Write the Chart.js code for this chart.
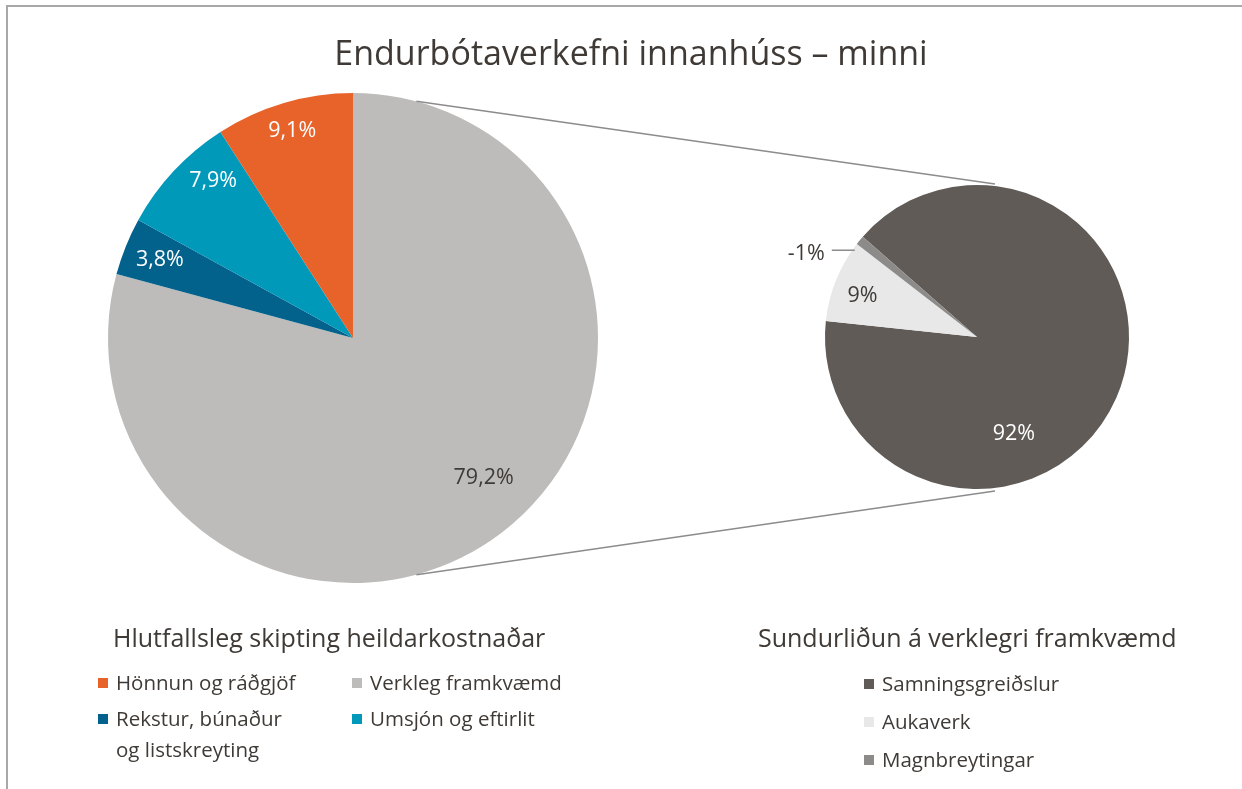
<!DOCTYPE html>
<html lang="is">
<head>
    <meta charset="UTF-8">
    <title>Endurbótaverkefni innanhúss – minni</title>
    <script src="https://cdn.jsdelivr.net/npm/chart.js"></script>
    <style>
        body { margin: 0; background: #fff; font-family: "Open Sans", "Noto Sans", sans-serif; color: #3f3a36; }
        #wrap { position: relative; width: 1242px; height: 789px; overflow: hidden; }
        #frame { position: absolute; left: 6px; top: 5px; width: 1400px; height: 1000px; border: 2px solid #a8a8a8; }
        canvas { position: absolute; left: 0; top: 0; }
        h1 { position: absolute; top: 29px; left: 0; width: 1262px; margin: 0; text-align: center; font-weight: normal; font-size: 34px; line-height: 46px; }
        h2 { position: absolute; margin: 0; font-weight: normal; font-size: 25px; line-height: 32px; white-space: nowrap; }
        .legend { position: absolute; font-size: 20.5px; }
        .item { position: absolute; display: flex; align-items: flex-start; line-height: 31px; white-space: nowrap; }
        .item i { display: inline-block; width: 10px; height: 10px; margin: 11px 8px 0 0; }
    </style>
</head>
<body>
<div id="wrap">
    <div id="frame"></div>
    <canvas id="pieMain" width="1242" height="789"></canvas>
    <canvas id="pieSub" width="1242" height="789"></canvas>
    <h1>Endurbótaverkefni innanhúss – minni</h1>
    <h2 style="left:113px; top:621px;">Hlutfallsleg skipting heildarkostnaðar</h2>
    <h2 style="left:758px; top:621px;">Sundurliðun á verklegri framkvæmd</h2>
    <div id="legendMain" class="legend"></div>
    <div id="legendSub" class="legend"></div>
</div>

<script>
    // gögn - heildarkostnaður (byrjar efst, réttsælis)
    const mainLabels = ['Verkleg framkvæmd', ['Rekstur, búnaður', 'og listskreyting'], 'Umsjón og eftirlit', 'Hönnun og ráðgjöf'];
    const mainValues = [79.2, 3.8, 7.9, 9.1];
    const mainColors = ['#bdbcba', '#03628c', '#0099ba', '#e8632a'];

    // gögn - sundurliðun verklegrar framkvæmdar
    const subLabels = ['Samningsgreiðslur', 'Aukaverk', 'Magnbreytingar'];
    const subValues = [92, 9, -1];
    const subColors = ['#605b56', '#e8e8e8', '#8d8b89'];

    const fontFamily = '"Open Sans", "Noto Sans", sans-serif';

    // teiknar prósentumerki á sneiðarnar
    const sliceLabels = {
        id: 'sliceLabels',
        afterDatasetsDraw(chart, args, opts) {
            const ctx = chart.ctx;
            const arcs = chart.getDatasetMeta(0).data;
            const values = chart.data.datasets[0].raw;
            ctx.save();
            ctx.font = '21.5px ' + fontFamily;
            arcs.forEach((arc, i) => {
                const p = opts.place[i];
                const a = arc.startAngle + (arc.endAngle - arc.startAngle) * p.t;
                const text = opts.format(values[i]);
                ctx.fillStyle = p.color;
                if (p.leader) {
                    const ex = arc.x + Math.cos(a) * arc.outerRadius;
                    const ey = arc.y + Math.sin(a) * arc.outerRadius + 10;
                    ctx.strokeStyle = '#8c8c8c';
                    ctx.lineWidth = 1.5;
                    ctx.beginPath();
                    ctx.moveTo(ex - 5, ey);
                    ctx.lineTo(ex - 28, ey);
                    ctx.stroke();
                    ctx.textAlign = 'right';
                    ctx.textBaseline = 'middle';
                    ctx.fillText(text, ex - 35, ey + 4);
                } else {
                    const r = arc.outerRadius * p.r;
                    ctx.textAlign = 'center';
                    ctx.textBaseline = 'middle';
                    ctx.fillText(text, arc.x + Math.cos(a) * r, arc.y + Math.sin(a) * r);
                }
            });
            ctx.restore();
        }
    };

    // tengilínur milli kökuritanna
    const connectors = {
        id: 'connectors',
        afterDraw(chart) {
            const big = mainChart.getDatasetMeta(0).data[0];
            const small = chart.getDatasetMeta(0).data[0];
            const ang = 15 * Math.PI / 180;
            const ctx = chart.ctx;
            ctx.save();
            ctx.strokeStyle = '#8c8c8c';
            ctx.lineWidth = 1.5;
            ctx.beginPath();
            ctx.moveTo(big.x + Math.sin(ang) * big.outerRadius, big.y - Math.cos(ang) * big.outerRadius);
            ctx.lineTo(small.x + 18, small.y - small.outerRadius - 1);
            ctx.moveTo(big.x + Math.sin(ang) * big.outerRadius, big.y + Math.cos(ang) * big.outerRadius);
            ctx.lineTo(small.x + 18, small.y + small.outerRadius + 2);
            ctx.stroke();
            ctx.restore();
        }
    };

    const baseOptions = (padding) => ({
        responsive: false,
        animation: false,
        layout: { padding: padding },
        plugins: { legend: { display: false }, tooltip: { enabled: false } }
    });

    const mainOptions = baseOptions({ left: 108, right: 644, top: 93, bottom: 206 });
    mainOptions.plugins.sliceLabels = {
        format: v => v.toFixed(1).replace('.', ',') + '%',
        place: [
            { t: 0.48, r: 0.78, color: '#3f3a36' },
            { t: 0.5, r: 0.85, color: '#ffffff' },
            { t: 0.69, r: 0.86, color: '#ffffff' },
            { t: 0.5, r: 0.88, color: '#ffffff' }
        ]
    };

    const mainChart = new Chart(document.getElementById('pieMain'), {
        type: 'pie',
        data: {
            labels: mainLabels,
            datasets: [{ data: mainValues, raw: mainValues, backgroundColor: mainColors, borderWidth: 0 }]
        },
        options: mainOptions,
        plugins: [sliceLabels]
    });

    const subOptions = baseOptions({ left: 825, right: 113, top: 185, bottom: 300 });
    subOptions.rotation = -48.7;
    subOptions.plugins.sliceLabels = {
        format: v => v.toFixed(0) + '%',
        place: [
            { t: 0.64, r: 0.68, color: '#ffffff' },
            { t: 0.43, r: 0.8, color: '#3f3a36' },
            { t: 0.5, leader: true, color: '#3f3a36' }
        ]
    };

    new Chart(document.getElementById('pieSub'), {
        type: 'pie',
        data: {
            labels: subLabels,
            datasets: [{ data: subValues.map(Math.abs), raw: subValues, backgroundColor: subColors, borderWidth: 0 }]
        },
        options: subOptions,
        plugins: [sliceLabels, connectors]
    });

    // skýringar (legend) í HTML
    function addItem(box, label, color, x, y) {
        const div = document.createElement('div');
        div.className = 'item';
        div.style.left = x + 'px';
        div.style.top = y + 'px';
        const text = Array.isArray(label) ? label.join('<br>') : label;
        div.innerHTML = '<i style="background:' + color + '"></i><span>' + text + '</span>';
        box.appendChild(div);
    }

    const legendMain = document.getElementById('legendMain');
    const mainOrder = [3, 0, 1, 2];
    mainOrder.forEach((idx, k) => {
        addItem(legendMain, mainLabels[idx], mainColors[idx], k % 2 === 0 ? 98 : 352, k < 2 ? 667 : 703);
    });

    const legendSub = document.getElementById('legendSub');
    subLabels.forEach((lab, i) => {
        addItem(legendSub, lab, subColors[i], 864, 668 + i * 38);
    });
</script>
</body>
</html>
